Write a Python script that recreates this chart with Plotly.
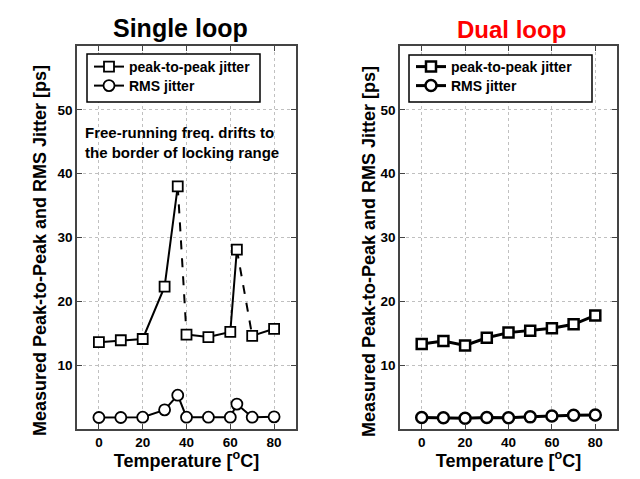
import plotly.graph_objects as go

# ---- data ----
temps_single = [0, 10, 20, 30, 36, 40, 50, 60, 63, 70, 80]
pp_single = [13.6, 13.9, 14.1, 22.3, 38.0, 14.8, 14.4, 15.2, 28.1, 14.6, 15.7]
rms_single = [1.8, 1.8, 1.85, 3.0, 5.3, 1.85, 1.85, 1.85, 3.9, 1.85, 1.9]
solid_segments_single = [(0, 4), (5, 8), (9, 10)]   # index ranges joined by solid lines
dashed_segments_single = [(4, 5), (8, 9)]           # index pairs joined by dashed lines

temps_dual = [0, 10, 20, 30, 40, 50, 60, 70, 80]
pp_dual = [13.3, 13.8, 13.1, 14.3, 15.1, 15.4, 15.8, 16.4, 17.8]
rms_dual = [1.8, 1.75, 1.7, 1.8, 1.75, 1.9, 2.05, 2.15, 2.2]

x_ticks = [0, 20, 40, 60, 80]
y_ticks = [10, 20, 30, 40, 50]
titles = ["Single loop", "Dual loop"]
title_colors = ["black", "red"]
y_title = "Measured Peak-to-Peak and RMS Jitter [ps]"
x_title = "Temperature [<sup>o</sup>C]"
note_lines = ["Free-running freq. drifts to", "the border of locking range"]
series_names = ["peak-to-peak jitter", "RMS jitter"]

FONT = "Arial, Liberation Sans, sans-serif"

# page has an 8px body margin; figure sized to fit the 640x479 window
OFF = 8
W, H = 640 - 2 * OFF, 479 - 2 * OFF


def fx(p):
    return (p - OFF) / W


def fy(p):
    return 1 - (p - OFF) / H


def join_segments(xs, ys, segs):
    ox, oy = [], []
    for a, b in segs:
        ox += xs[a:b + 1] + [None]
        oy += ys[a:b + 1] + [None]
    return ox, oy


fig = go.Figure()

# ---- single loop ----
dx, dy = join_segments(temps_single, pp_single, dashed_segments_single)
fig.add_trace(go.Scatter(x=dx, y=dy, mode="lines", line=dict(color="black", width=2, dash="dash"),
                         showlegend=False, xaxis="x", yaxis="y", hoverinfo="skip"))
sx, sy = join_segments(temps_single, pp_single, solid_segments_single)
fig.add_trace(go.Scatter(x=sx, y=sy, mode="lines+markers", name=series_names[0],
                         line=dict(color="black", width=2),
                         marker=dict(symbol="square", size=10, color="white",
                                     line=dict(color="black", width=1.8)),
                         xaxis="x", yaxis="y", legend="legend"))
fig.add_trace(go.Scatter(x=temps_single, y=rms_single, mode="lines+markers", name=series_names[1],
                         line=dict(color="black", width=2),
                         marker=dict(symbol="circle", size=11, color="white",
                                     line=dict(color="black", width=1.8)),
                         xaxis="x", yaxis="y", legend="legend3"))

# ---- dual loop ----
fig.add_trace(go.Scatter(x=temps_dual, y=pp_dual, mode="lines+markers", name=series_names[0],
                         line=dict(color="black", width=3),
                         marker=dict(symbol="square", size=10, color="white",
                                     line=dict(color="black", width=2.5)),
                         xaxis="x2", yaxis="y2", legend="legend2"))
fig.add_trace(go.Scatter(x=temps_dual, y=rms_dual, mode="lines+markers", name=series_names[1],
                         line=dict(color="black", width=3),
                         marker=dict(symbol="circle", size=11, color="white",
                                     line=dict(color="black", width=2.5)),
                         xaxis="x2", yaxis="y2", legend="legend4"))

ydom = [fy(429), fy(46)]
tickfont = dict(family=FONT, size=13.5, color="black", weight="bold")


def xaxis(dom, anchor):
    return dict(domain=dom, anchor=anchor, range=[-10, 90], tickvals=x_ticks,
                showline=True, mirror="ticks", linecolor="#444", linewidth=1.5,
                ticks="inside", ticklen=5, tickcolor="#444", tickwidth=1,
                showgrid=True, gridcolor="#c0c0c0", griddash="dot", gridwidth=1,
                zeroline=False, tickfont=tickfont,
                title=dict(text=x_title, standoff=2,
                           font=dict(family=FONT, size=18, color="black", weight="bold")),
                automargin=False)


def yaxis(anchor):
    return dict(domain=ydom, anchor=anchor, range=[0, 60], tickvals=y_ticks,
                showline=True, mirror="ticks", linecolor="#444", linewidth=1.5,
                ticks="inside", ticklen=5, tickcolor="#444", tickwidth=1,
                showgrid=True, gridcolor="#c0c0c0", griddash="dot", gridwidth=1,
                zeroline=False, tickfont=tickfont, automargin=False)


legend_common = dict(bgcolor="rgba(0,0,0,0)", borderwidth=0,
                     font=dict(family=FONT, size=14, color="black", weight="bold"),
                     xanchor="left", yanchor="middle", tracegroupgap=0)

annotations = [
    dict(text=titles[0], x=fx(180), y=fy(28), xref="paper", yref="paper", showarrow=False,
         xanchor="center", yanchor="middle",
         font=dict(family=FONT, size=25, color=title_colors[0], weight="bold")),
    dict(text=titles[1], x=fx(511), y=fy(29), xref="paper", yref="paper", showarrow=False,
         xanchor="center", yanchor="middle",
         font=dict(family=FONT, size=24, color=title_colors[1], weight="bold")),
    dict(text="<br>".join(note_lines), x=fx(83), y=fy(122), xref="paper", yref="paper",
         xanchor="left", yanchor="top", align="left", showarrow=False,
         font=dict(family=FONT, size=15, color="black", weight="bold")),
    dict(text=y_title, x=fx(40), y=fy(251), xref="paper", yref="paper", textangle=-90,
         xanchor="center", yanchor="middle", showarrow=False,
         font=dict(family=FONT, size=18, color="black", weight="bold")),
    dict(text=y_title, x=fx(369), y=fy(252), xref="paper", yref="paper", textangle=-90,
         xanchor="center", yanchor="middle", showarrow=False,
         font=dict(family=FONT, size=18, color="black", weight="bold")),
]

shapes = [
    dict(type="rect", xref="paper", yref="paper", x0=fx(87), x1=fx(260), y0=fy(102), y1=fy(54),
         line=dict(color="black", width=1.5), fillcolor="white", layer="above"),
    dict(type="rect", xref="paper", yref="paper", x0=fx(409), x1=fx(592), y0=fy(102), y1=fy(55),
         line=dict(color="black", width=1.5), fillcolor="white", layer="above"),
]

fig.update_layout(
    width=W, height=H,
    margin=dict(l=0, r=0, t=0, b=0),
    paper_bgcolor="white", plot_bgcolor="white",
    xaxis=xaxis([fx(77), fx(296)], "y"),
    yaxis=yaxis("x"),
    xaxis2=xaxis([fx(400), fx(617)], "y2"),
    yaxis2=yaxis("x2"),
    legend=dict(x=fx(89), y=fy(67), **legend_common),
    legend3=dict(x=fx(89), y=fy(86), **legend_common),
    legend2=dict(x=fx(411), y=fy(67), **legend_common),
    legend4=dict(x=fx(411), y=fy(86), **legend_common),
    annotations=annotations,
    shapes=shapes,
    showlegend=True,
)

fig.write_html("out.html")
